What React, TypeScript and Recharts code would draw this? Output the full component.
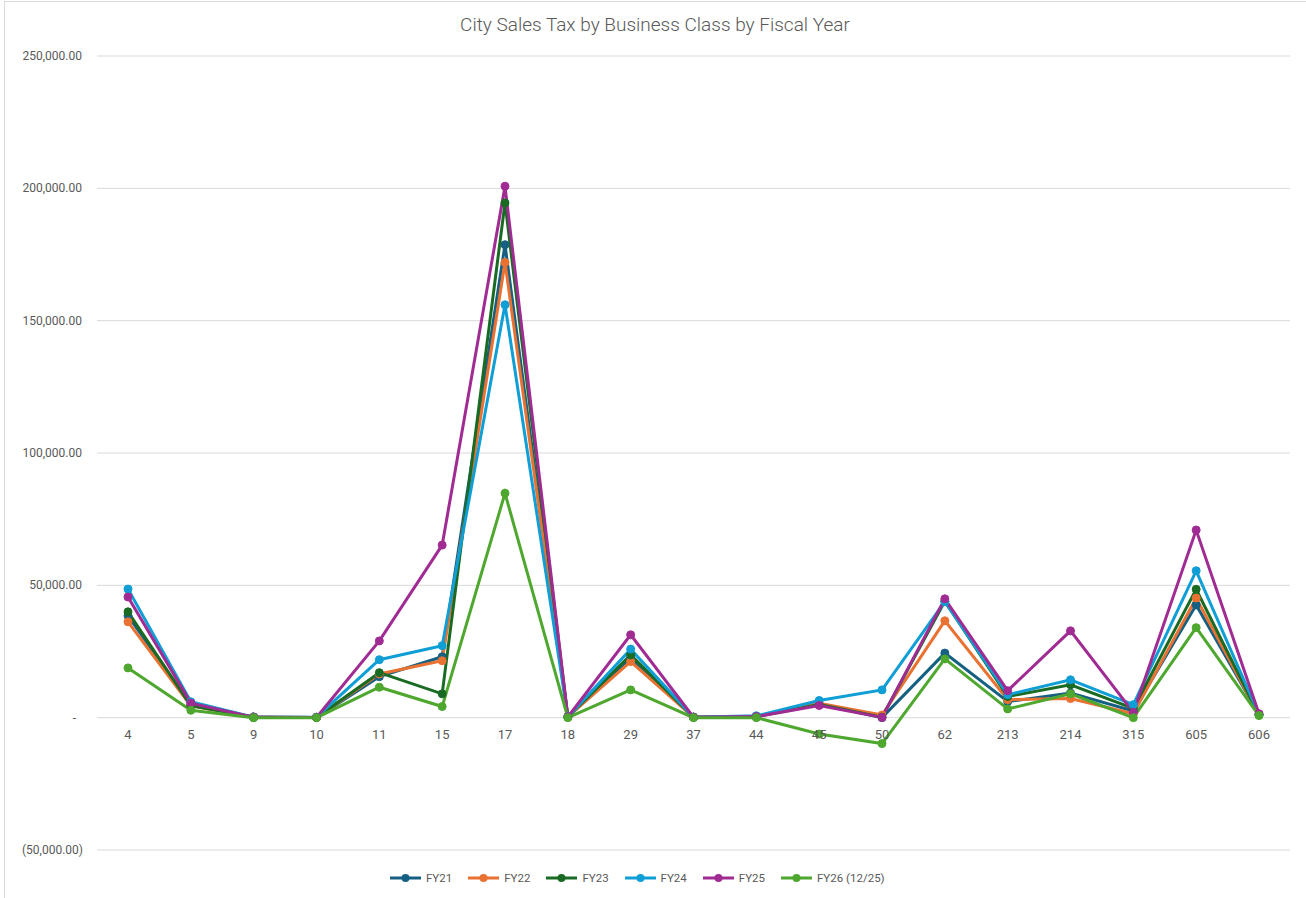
import React from 'react';
import { LineChart, Line, XAxis, YAxis, CartesianGrid } from 'recharts';

// business class codes along the x axis
const categories = ['4', '5', '9', '10', '11', '15', '17', '18', '29', '37', '44', '45', '50', '62', '213', '214', '315', '605', '606'];

const fy21 = [38500, 5000, 200, 100, 15500, 23000, 178700, 300, 22500, 200, 400, 5200, 0, 24400, 6100, 9300, 2500, 42600, 1200];
const fy22 = [36200, 4500, 200, 100, 16500, 21500, 172000, 300, 21200, 200, 400, 5400, 1000, 36600, 6800, 7200, 1500, 45200, 1000];
const fy23 = [40000, 4500, 200, 100, 17000, 9000, 194500, 300, 23700, 200, 400, 5000, 200, 44000, 8000, 12400, 3500, 48500, 1000];
const fy24 = [48600, 6000, 200, 200, 21900, 27200, 156000, 300, 25900, 200, 700, 6500, 10500, 43800, 8700, 14300, 4900, 55500, 1200];
const fy25 = [45600, 5500, 200, 100, 29000, 65200, 200800, 300, 31300, 200, 400, 4600, 100, 44900, 10200, 32800, 2000, 70900, 1500];
const fy26 = [18800, 2800, 0, 0, 11500, 4200, 84800, 0, 10500, 0, 0, -6200, -9800, 22200, 3300, 9000, 0, 34000, 800];

const yTicks = [-50000, 0, 50000, 100000, 150000, 200000, 250000];

const series = [
  { key: 'fy21', name: 'FY21', values: fy21, color: '#156082' },
  { key: 'fy22', name: 'FY22', values: fy22, color: '#E97132' },
  { key: 'fy23', name: 'FY23', values: fy23, color: '#196B24' },
  { key: 'fy24', name: 'FY24', values: fy24, color: '#0F9ED5' },
  { key: 'fy25', name: 'FY25', values: fy25, color: '#A02B93' },
  { key: 'fy26', name: 'FY26 (12/25)', values: fy26, color: '#4EA72E' },
];

const data = categories.map((cat, i) => {
  const row: any = { cat };
  series.forEach((s) => { row[s.key] = s.values[i]; });
  return row;
});

const W = 1306;
const H = 898;
const MARGIN = { top: 56, right: 16, left: 0, bottom: 18 };
const X_AXIS_H = 30;
const Y_MIN = yTicks[0];
const Y_MAX = yTicks[yTicks.length - 1];
const PLOT_H = H - MARGIN.top - MARGIN.bottom - X_AXIS_H;
// category labels sit just under the zero line, like Excel does
const ZERO_Y = MARGIN.top + PLOT_H * (Y_MAX / (Y_MAX - Y_MIN));

const FONT = 'Roboto, "Liberation Sans", sans-serif';
const GREY = '#595959';

const fmt = (v: number) => v.toLocaleString('en-US', { minimumFractionDigits: 2, maximumFractionDigits: 2 });

const YTick = ({ x, y, payload }: any) => {
  const v = payload.value;
  const label = v === 0 ? '-' : v < 0 ? `(${fmt(-v)})` : fmt(v);
  const dx = v === 0 ? -6 : v < 0 ? 1 : 0;
  return (
    <text x={x + dx} y={y} dy={4} textAnchor="end" fontSize={12} fill={GREY} fontFamily={FONT}>
      {label}
    </text>
  );
};

const XTick = ({ x, payload }: any) => (
  <text x={x} y={ZERO_Y + 21} textAnchor="middle" fontSize={13} fill={GREY} fontFamily={FONT}>
    {payload.value}
  </text>
);

export default function App() {
  return (
    <div style={{ position: 'absolute', left: 0, top: 0, width: W, height: H, background: '#fff', overflow: 'hidden' }}>
      <div style={{ position: 'absolute', left: 4, top: 1, width: W, height: H, borderLeft: '1px solid #d9d9d9', borderTop: '1px solid #d9d9d9' }} />
      <div style={{ position: 'absolute', left: 0, top: 13, width: W + 4, textAlign: 'center', fontFamily: FONT, fontSize: 19, color: '#595959', fontWeight: 300 }}>
        City Sales Tax by Business Class by Fiscal Year
      </div>
      <div style={{ position: 'absolute', left: 0, top: 0 }}>
        <LineChart width={W} height={H} data={data} margin={MARGIN}>
          <CartesianGrid vertical={false} stroke="#d9d9d9" strokeWidth={1} />
          <XAxis
            dataKey="cat"
            height={X_AXIS_H}
            axisLine={false}
            tickLine={false}
            tick={<XTick />}
            interval={0}
            padding={{ left: 31, right: 31 }}
          />
          <YAxis
            width={97}
            domain={[Y_MIN, Y_MAX]}
            ticks={yTicks}
            axisLine={false}
            tickLine={false}
            tickMargin={9}
            tick={<YTick />}
            allowDataOverflow
          />
          {series.map((s) => (
            <Line
              key={s.key}
              dataKey={s.key}
              name={s.name}
              type="linear"
              stroke={s.color}
              strokeWidth={3}
              dot={{ r: 4, fill: s.color, stroke: s.color, strokeWidth: 1 }}
              isAnimationActive={false}
            />
          ))}
        </LineChart>
      </div>
      <div style={{ position: 'absolute', left: 390, top: 871, display: 'flex', gap: 16, fontFamily: FONT, fontSize: 11.5, color: GREY }}>
        {series.map((s) => (
          <div key={s.key} style={{ display: 'flex', alignItems: 'center', gap: 5 }}>
            <svg width={31} height={10}>
              <line x1={0} y1={5} x2={31} y2={5} stroke={s.color} strokeWidth={3} />
              <circle cx={15.5} cy={5} r={4} fill={s.color} />
            </svg>
            <span>{s.name}</span>
          </div>
        ))}
      </div>
    </div>
  );
}
